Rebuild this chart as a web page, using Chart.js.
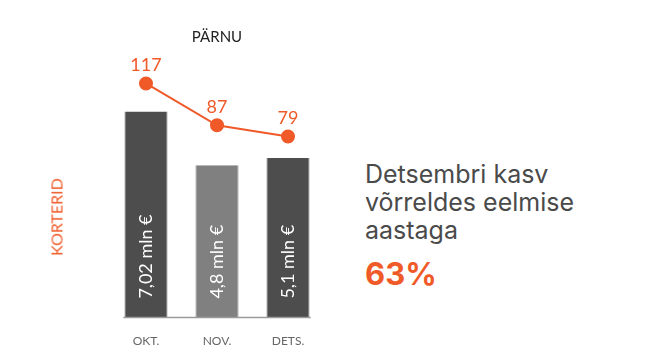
<!DOCTYPE html>
<html>
<head>
<meta charset="utf-8">
<script src="https://cdn.jsdelivr.net/npm/chart.js@4/dist/chart.umd.min.js"></script>
<style>
  body { margin: 0; background: #fff; width: 645px; height: 364px; overflow: hidden; position: relative; }
  #wrap { position: absolute; left: 0; top: 0; width: 340px; height: 364px; }
  #title { position: absolute; left: 167px; width: 100px; top: 27px; text-align: center;
           font: 15px Lato, sans-serif; color: #222; }
  #ylab { position: absolute; left: 56px; top: 217px; transform: translate(-50%, -50%) rotate(-90deg);
          font: 16px Lato, sans-serif; color: #f05a28; white-space: nowrap; }
  #side { position: absolute; left: 365px; top: 160px; font: 25px Inter, sans-serif; color: #4a4a4a;
          line-height: 28px; }
  #pct { position: absolute; left: 365px; top: 255px; font: bold 31px Inter, sans-serif; color: #f05a28; }
</style>
</head>
<body>
<div id="wrap"><canvas id="chart"></canvas></div>
<div id="title">PÄRNU</div>
<div id="ylab">KORTERID</div>
<div id="side">Detsembri kasv<br>võrreldes eelmise<br>aastaga</div>
<div id="pct">63%</div>
<script>
// data
var months = ["OKT.", "NOV.", "DETS."];
var turnover = [7.02, 4.8, 5.1];          // mln €
var turnoverLabels = ["7,02 mln €", "4,8 mln €", "5,1 mln €"];
var apartments = [117, 87, 79];           // korterid

var orange = "#f05a28";
var barMin = -1.5;

// draw values inside bars, numbers above points, baseline
var labelPlugin = {
    id: "labels",
    afterDatasetsDraw: function (chart) {
        var ctx = chart.ctx;
        var bars = chart.getDatasetMeta(0).data;
        var pts = chart.getDatasetMeta(1).data;
        ctx.save();

        // baseline under bars
        var first = bars[0], last = bars[bars.length - 1];
        var baseY = chart.scales.y.getPixelForValue(barMin);
        ctx.strokeStyle = "#9a9a9a";
        ctx.lineWidth = 1.5;
        ctx.beginPath();
        ctx.moveTo(first.x - first.width / 2 - 1, baseY);
        ctx.lineTo(last.x + last.width / 2 + 1, baseY);
        ctx.stroke();

        ctx.fillStyle = "#fff";
        ctx.font = "18px Lato, sans-serif";
        ctx.textAlign = "left";
        ctx.textBaseline = "middle";
        bars.forEach(function (b, i) {
            ctx.save();
            ctx.translate(b.x, baseY - 19);
            ctx.rotate(-Math.PI / 2);
            ctx.fillText(turnoverLabels[i], 0, 0);
            ctx.restore();
        });

        ctx.fillStyle = orange;
        ctx.font = "18px Lato, sans-serif";
        ctx.textAlign = "center";
        ctx.textBaseline = "middle";
        pts.forEach(function (p, i) {
            ctx.fillText(String(apartments[i]), p.x, p.y - 18);
        });
        ctx.restore();
    }
};

new Chart(document.getElementById("chart"), {
    type: "bar",
    data: {
        labels: months,
        datasets: [{
            type: "bar",
            data: turnover,
            base: barMin,
            backgroundColor: ["#4d4d4d", "#808080", "#4d4d4d"],
            borderColor: "#a8a8a8",
            borderWidth: { left: 1, right: 1, top: 0, bottom: 0 },
            borderSkipped: false,
            barPercentage: 0.61,
            categoryPercentage: 1,
            yAxisID: "y",
            order: 1
        }, {
            type: "line",
            data: apartments,
            borderColor: orange,
            borderWidth: 2,
            pointBackgroundColor: orange,
            pointBorderColor: orange,
            pointRadius: 6,
            yAxisID: "y2",
            order: 0
        }]
    },
    options: {
        responsive: true,
        maintainAspectRatio: false,
        animation: false,
        layout: { padding: { left: 110.5, right: 16.5, top: 50, bottom: 8 } },
        plugins: {
            legend: { display: false },
            tooltip: { enabled: false }
        },
        scales: {
            x: {
                grid: { display: false },
                border: { display: false },
                ticks: { color: "#666", font: { family: "Lato", size: 12 }, padding: 8 }
            },
            y: { display: false, min: barMin, max: 9.56 },
            y2: { display: false, min: -50.9, max: 141 }
        }
    },
    plugins: [labelPlugin]
});
</script>
</body>
</html>
